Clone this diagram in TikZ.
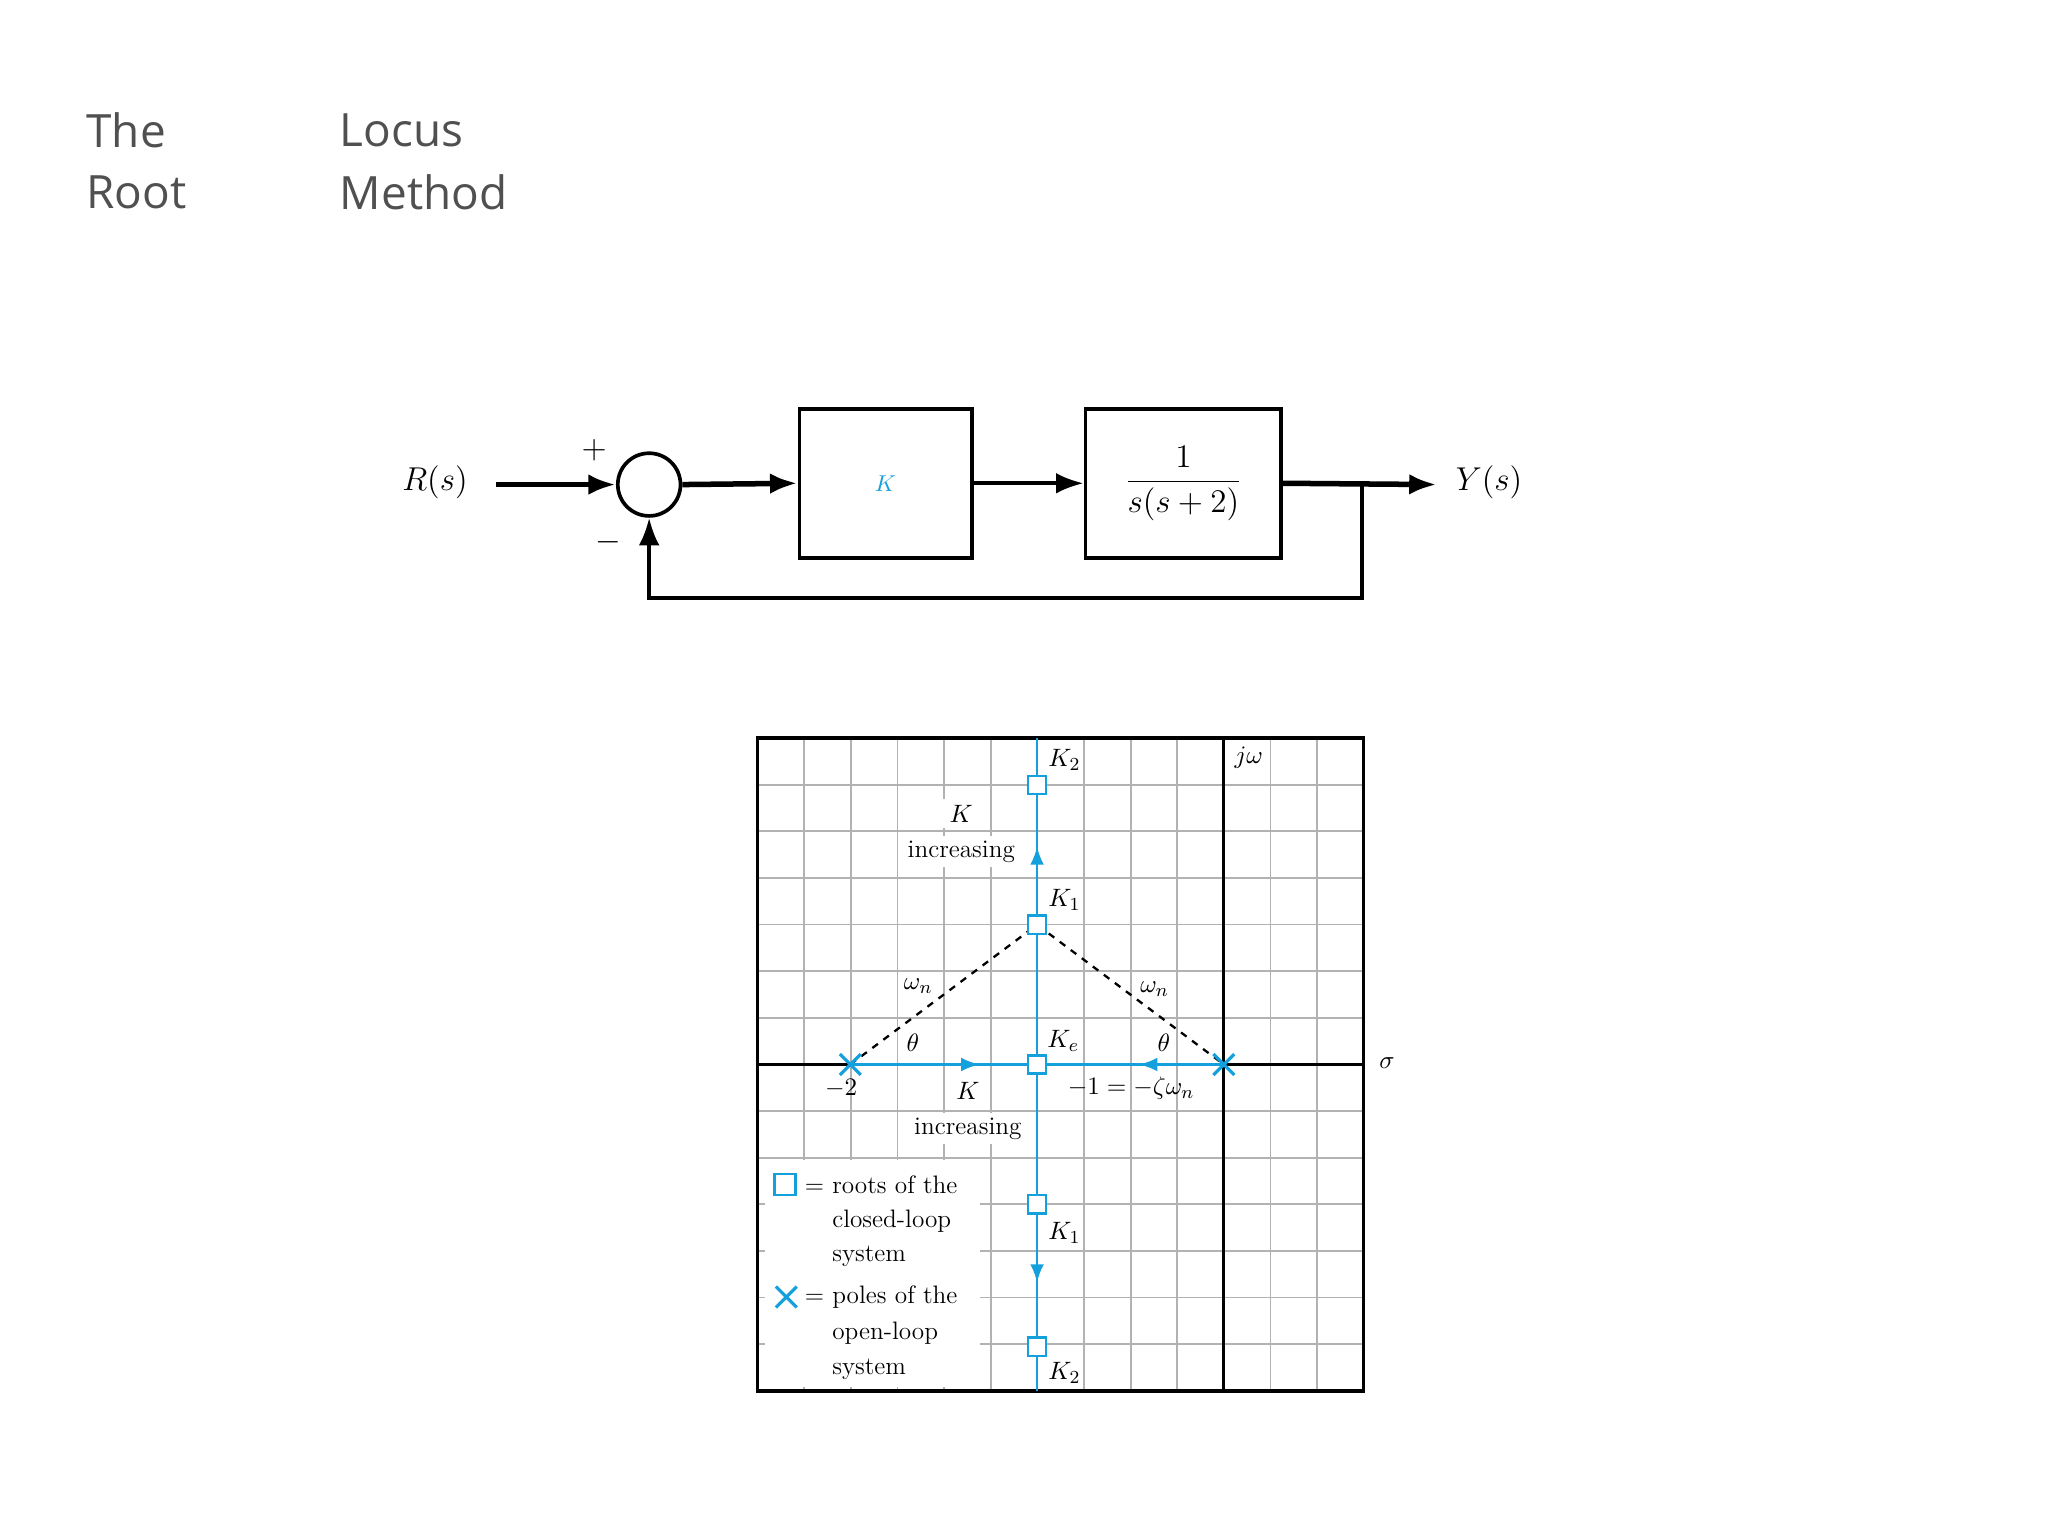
\documentclass[tikz,border=0pt]{standalone}
\usepackage{fontspec}
\newfontfamily\osans{Open Sans}
\usetikzlibrary{arrows.meta,calc}
\definecolor{lb}{RGB}{20,160,220}
\definecolor{tg}{RGB}{80,80,80}
\begin{document}
\begin{tikzpicture}[x=0.02cm,y=-0.02cm,
 blk/.style={draw,line width=1.6pt,minimum width=132*0.02cm,minimum height=114*0.02cm,inner sep=0},
 sig/.style={line width=2.4pt,-{Latex[length=12pt,width=9pt]}},
 lab/.style={font=\fontsize{15}{18}\selectfont},
 sm/.style={font=\fontsize{11}{13}\selectfont},
 bx/.style={draw=lb,line width=1pt,fill=white,minimum size=14*0.02cm,inner sep=0},
 ttl/.style={font=\osans\fontsize{20}{24}\selectfont,text=tg,anchor=west}]
\useasboundingbox (0,0) rectangle (1568,1176);
\node[ttl] (t1) at (60,100) {The};
\node[ttl] (t2) at (60,147) {Root};
\node[ttl] (t3) at (254,100) {Locus};
\node[ttl] (t4) at (254,147) {Method};
% block diagram
\node[lab] (R) at (333,369) {$R(s)$};
\node[draw,circle,line width=1.6pt,minimum size=48*0.02cm,inner sep=0] (S) at (497,371) {};
\node[blk] (K) at (678,370) {\textcolor{lb}{$K$}};
\node[blk,minimum width=150*0.02cm,font=\fontsize{15}{18}\selectfont] (G) at (906,370) {$\displaystyle\frac{1}{s(s+2)}$};
\node[lab] (Y) at (1140,369) {$Y(s)$};
\node[lab] (pl) at (455,345) {$+$};
\node[lab] (mi) at (466,415) {$-$};
\coordinate (in) at (380,371);
\coordinate (br) at (1043,371);
\coordinate (c1) at (1043,458);
\coordinate (c2) at (497,458);
\draw[sig] (in) -- (S.west);
\draw[sig] (S.east) -- (K.west);
\draw[sig,line width=1.6pt] (K.east) -- (G.west);
\draw[sig] (G.east) -- (1100,371) coordinate (out);
\draw[sig,line width=1.6pt] (br) -- (c1) -- (c2) -- (S.south);
% root locus plot
\foreach \k in {1,...,12}{\draw[gray!60,line width=0.8pt] ({580+35.7*\k},565) -- ({580+35.7*\k},1065);}
\foreach \k in {1,...,13}{\draw[gray!60,line width=0.8pt] (580,{565+35.7*\k}) -- (1044,{565+35.7*\k});}
\fill[white] (586,888) rectangle (750,1062);
\fill[white] (688,640) rectangle (782,664);
\fill[white] (718,612) rectangle (752,634);
\fill[white] (692,852) rectangle (786,876);
\draw[line width=1.2pt] (937,565) -- (937,1065);
\draw[line width=1.2pt] (580,815) -- (1044,815);
\draw[line width=1.6pt] (580,565) rectangle (1044,1065);
\coordinate (p2) at (651,815);
\coordinate (p0) at (937,815);
\node[bx] (Kb) at (794,815) {};
\node[bx] (K1u) at (794,708) {};
\node[bx] (K2u) at (794,601) {};
\node[bx] (K1d) at (794,922) {};
\node[bx] (K2d) at (794,1031) {};
\draw[dashed,line width=1pt] (p2) -- (K1u.center) -- (p0);
\draw[lb,line width=1.2pt] (794,565) -- (K2u) -- (K1u) -- (Kb) -- (K1d) -- (K2d) -- (794,1065);
\draw[lb,line width=1.2pt] (p2) -- (Kb) -- (p0);
\node[bx] at (K1u) {};
\draw[lb,-{Latex[length=8pt,width=6pt]},line width=1.2pt] (794,670) -- (794,648);
\draw[lb,-{Latex[length=8pt,width=6pt]},line width=1.2pt] (794,960) -- (794,982);
\draw[lb,-{Latex[length=8pt,width=6pt]},line width=1.2pt] (720,815) -- (750,815);
\draw[lb,-{Latex[length=8pt,width=6pt]},line width=1.2pt] (900,815) -- (872,815);
\foreach \p in {p2,p0}{\draw[lb,line width=1.4pt] ($(\p)+(-8,-8)$) -- ($(\p)+(8,8)$) ($(\p)+(-8,8)$) -- ($(\p)+(8,-8)$);}
\node[sm] (lK2u) at (815,582) {$K_2$};
\node[sm] (lK1u) at (815,689) {$K_1$};
\node[sm] (lKe) at (814,797) {$K_e$};
\node[sm] (lK1d) at (815,944) {$K_1$};
\node[sm] (lK2d) at (815,1051) {$K_2$};
\node[sm] (jw) at (956,580) {$j\omega$};
\node[sm] (sg) at (1062,814) {$\sigma$};
\node[sm] (Ki1) at (736,623) {$K$};
\node[sm] (in1) at (736,652) {increasing};
\node[sm] (Ki2) at (741,835) {$K$};
\node[sm] (in2) at (741,864) {increasing};
\node[sm] (wn1) at (703,755) {$\omega_n$};
\node[sm] (wn2) at (884,757) {$\omega_n$};
\node[sm] (th1) at (699,798) {$\theta$};
\node[sm] (th2) at (891,798) {$\theta$};
\node[sm] (m2) at (644,833) {$-2$};
\node[sm] (m1) at (866,833) {$-1=-\zeta\omega_n$};
\node[bx,minimum size=16*0.02cm] (lgb) at (601,907) {};
\node[sm,anchor=west] (lg1) at (610,907) {= roots of the};
\node[sm,anchor=west] (lg2) at (631,935) {closed-loop};
\node[sm,anchor=west] (lg3) at (631,962) {system};
\coordinate (lgx) at (602,993);
\draw[lb,line width=1.4pt] ($(lgx)+(-8,-8)$) -- ($(lgx)+(8,8)$) ($(lgx)+(-8,8)$) -- ($(lgx)+(8,-8)$);
\node[sm,anchor=west] (lg4) at (610,993) {= poles of the};
\node[sm,anchor=west] (lg5) at (631,1021) {open-loop};
\node[sm,anchor=west] (lg6) at (631,1048) {system};
\end{tikzpicture}
\end{document}
